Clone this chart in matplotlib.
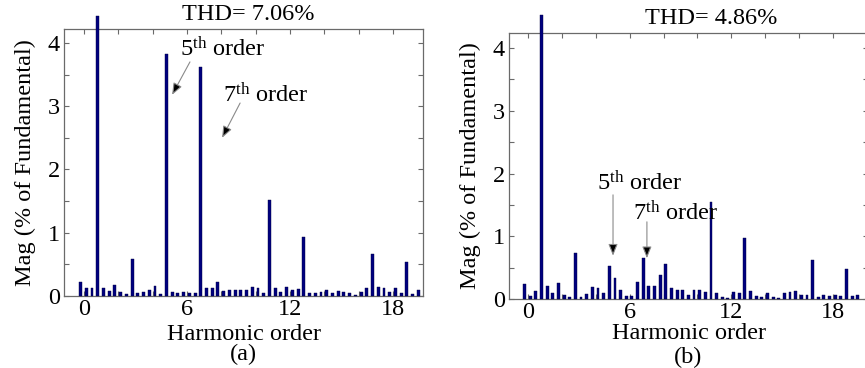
import numpy as np
import matplotlib
matplotlib.use("Agg")
import matplotlib.pyplot as plt
from matplotlib.ticker import FixedLocator, FixedFormatter

plt.rcParams['font.family'] = ['Liberation Serif', 'DejaVu Serif']
plt.rcParams['mathtext.fontset'] = 'custom'
plt.rcParams['mathtext.rm'] = 'Liberation Serif'
plt.rcParams['mathtext.it'] = 'Liberation Serif:italic'

# ---------------- data ----------------
# harmonic spectrum sampled every 1/3 harmonic order
mag_a = [0.22, 0.12, 0.12, 4.42, 0.12, 0.08, 0.18, 0.07, 0.03, 0.58,
         0.04, 0.07, 0.09, 0.16, 0.03, 3.82, 0.07, 0.05, 0.06, 0.05,
         0.05, 3.62, 0.12, 0.13, 0.22, 0.08, 0.10, 0.10, 0.10, 0.10,
         0.15, 0.12, 0.04, 1.51, 0.12, 0.06, 0.14, 0.09, 0.11, 0.94,
         0.05, 0.05, 0.06, 0.10, 0.04, 0.08, 0.07, 0.04, 0.02, 0.07,
         0.12, 0.67, 0.14, 0.12, 0.06, 0.12, 0.05, 0.54, 0.03, 0.09]
mag_b = [0.24, 0.05, 0.12, 4.52, 0.21, 0.10, 0.25, 0.07, 0.03, 0.74,
         0.03, 0.08, 0.19, 0.17, 0.09, 0.52, 0.34, 0.14, 0.05, 0.05,
         0.27, 0.66, 0.21, 0.20, 0.39, 0.56, 0.18, 0.14, 0.14, 0.07,
         0.15, 0.15, 0.11, 1.55, 0.10, 0.03, 0.02, 0.11, 0.09, 0.98,
         0.13, 0.04, 0.03, 0.10, 0.03, 0.02, 0.09, 0.11, 0.12, 0.07,
         0.07, 0.62, 0.03, 0.06, 0.04, 0.06, 0.04, 0.48, 0.05, 0.06]
order_start = -0.2
order_step = 1.0 / 3.0
thd_a = "THD= 7.06%"
thd_b = "THD= 4.86%"
x_ticks = [0, 2, 4, 6, 8, 10, 12, 14, 16, 18]
x_ticklabels = ['0', '', '', '6', '', '', '12', '', '', '18']
y_ticks = [0, 0.5, 1, 1.5, 2, 2.5, 3, 3.5, 4]
y_ticklabels = ['0', '', '1', '', '2', '', '3', '', '4']

W, H = 865, 368
fig = plt.figure(figsize=(W / 100, H / 100), dpi=100)

def px_axes(l, t, r, b):
    return [l / W, 1 - b / H, (r - l) / W, (b - t) / H]

ax_a = fig.add_axes(px_axes(64, 29, 423, 296))
ax_b = fig.add_axes(px_axes(509, 33, 868, 299))

bar_color = '#00007f'
spine_color = '#6a6a6a'
FS = 17.5

for ax, mags, xl, yl, thd, lab, labx, laby, lpad, thdx, thdy in [
        (ax_a, mag_a, (-1.165, 19.74), 4.22, thd_a, '(a)', 243, 354, 3, 248, 15),
        (ax_b, mag_b, (-1.12, 20.07), 4.24, thd_b, '(b)', 688, 357, 0, 711, 18)]:
    x = order_start + order_step * np.arange(len(mags))
    ax.bar(x, mags, width=0.17, color=bar_color, edgecolor='#000040',
           linewidth=0.3, clip_on=False, zorder=3)
    ax.set_xlim(*xl)
    ax.set_ylim(0, yl)
    ax.xaxis.set_major_locator(FixedLocator(x_ticks))
    ax.xaxis.set_major_formatter(FixedFormatter(x_ticklabels))
    ax.yaxis.set_major_locator(FixedLocator(y_ticks))
    ax.yaxis.set_major_formatter(FixedFormatter(y_ticklabels))
    ax.tick_params(direction='in', top=True, right=True, length=3.5,
                   width=0.8, color=spine_color, labelsize=FS)
    ax.tick_params(axis='x', pad=2)
    ax.tick_params(axis='y', pad=3)
    for s in ax.spines.values():
        s.set_color(spine_color)
        s.set_linewidth(0.9)
    ax.set_ylabel('Mag (% of Fundamental)', fontsize=FS, labelpad=8)
    ax.set_xlabel('Harmonic order', fontsize=FS, labelpad=lpad)
    fig.text(labx / W, 1 - laby / H, lab, ha='center', va='center',
             fontsize=FS)
    fig.text(thdx / W, 1 - thdy / H, thd, ha='center', va='center',
             fontsize=FS)

arrow_kw = dict(arrowstyle='-|>,head_length=0.7,head_width=0.28',
                fc='black', ec='#8a8a8a', lw=0.8, shrinkA=0, shrinkB=0)

# panel (a) annotations
ax_a.annotate('', xy=(5.13, 3.18), xytext=(6.17, 3.70), arrowprops=arrow_kw)
ax_a.text(5.6, 3.90, '5$^{\\mathrm{th}}$ order', fontsize=FS, ha='left',
          va='center')
ax_a.annotate('', xy=(8.04, 2.50), xytext=(9.09, 3.05), arrowprops=arrow_kw)
ax_a.text(8.1, 3.18, '7$^{\\mathrm{th}}$ order', fontsize=FS, ha='left',
          va='center')

# panel (b) annotations
ax_b.annotate('', xy=(5.02, 0.69), xytext=(5.02, 1.66), arrowprops=arrow_kw)
ax_b.text(4.05, 1.85, '5$^{\\mathrm{th}}$ order', fontsize=FS, ha='left',
          va='center')
ax_b.annotate('', xy=(7.02, 0.65), xytext=(7.02, 1.23), arrowprops=arrow_kw)
ax_b.text(6.2, 1.37, '7$^{\\mathrm{th}}$ order', fontsize=FS, ha='left',
          va='center')

fig.savefig('out.png', dpi=100)
